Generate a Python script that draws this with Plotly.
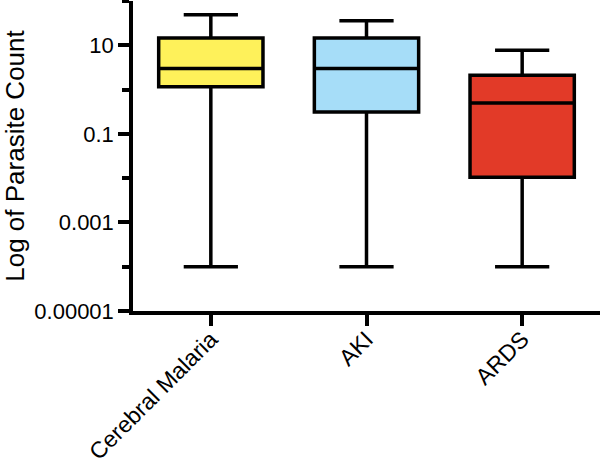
import plotly.graph_objects as go

categories = ["Cerebral Malaria", "AKI", "ARDS"]
lower_whisker = [0.0001, 0.0001, 0.0001]
q1_vals = [1.16, 0.31, 0.0105]
median_vals = [3.0, 3.0, 0.5]
q3_vals = [14.6, 14.6, 2.1]
upper_whisker = [49, 36, 7.7]
fill_colors = ["#FEF15A", "#A6DDF8", "#E23A28"]

ytick_vals = [0.00001, 0.001, 0.1, 10]
ytick_text = ["0.00001", "0.001", "0.1", "10"]
yminor_vals = [0.0001, 0.01, 1, 100]

fig = go.Figure()
for i, cat in enumerate(categories):
    fig.add_trace(go.Box(
        x=[cat],
        lowerfence=[lower_whisker[i]],
        q1=[q1_vals[i]],
        median=[median_vals[i]],
        q3=[q3_vals[i]],
        upperfence=[upper_whisker[i]],
        fillcolor=fill_colors[i],
        line=dict(color="black", width=3.5),
        width=0.67,
        whiskerwidth=0.52,
        showlegend=False,
        hoverinfo="skip",
    ))

fig.update_layout(
    width=600, height=459,
    margin=dict(l=133, r=0, t=1, b=148),
    paper_bgcolor="white", plot_bgcolor="white",
    font=dict(family="Liberation Sans, Arial, sans-serif", color="black", size=22),
    boxmode="overlay",
)
fig.update_xaxes(
    range=[-0.5, 2.5], automargin=False,
    showline=True, linecolor="black", linewidth=3.5,
    ticks="outside", ticklen=11, tickwidth=3.5, tickcolor="black",
    tickangle=-45, tickfont=dict(size=23), ticklabelstandoff=-9,
    showgrid=False, zeroline=False,
)
fig.update_yaxes(
    type="log", range=[-5, 2], automargin=False,
    tickvals=ytick_vals, ticktext=ytick_text,
    showline=True, linecolor="black", linewidth=3.5,
    ticks="outside", ticklen=11, tickwidth=3.5, tickcolor="black",
    minor=dict(tickvals=yminor_vals, ticks="outside", ticklen=7, tickwidth=3.5, tickcolor="black", showgrid=False),
    tickfont=dict(size=22),
    title=dict(text="Log of Parasite Count", font=dict(size=26), standoff=7),
    showgrid=False, zeroline=False,
)

fig.write_html(
    "out.html",
    config={"displayModeBar": False},
    post_script="document.body.style.margin='0';document.body.style.overflow='hidden';",
)
